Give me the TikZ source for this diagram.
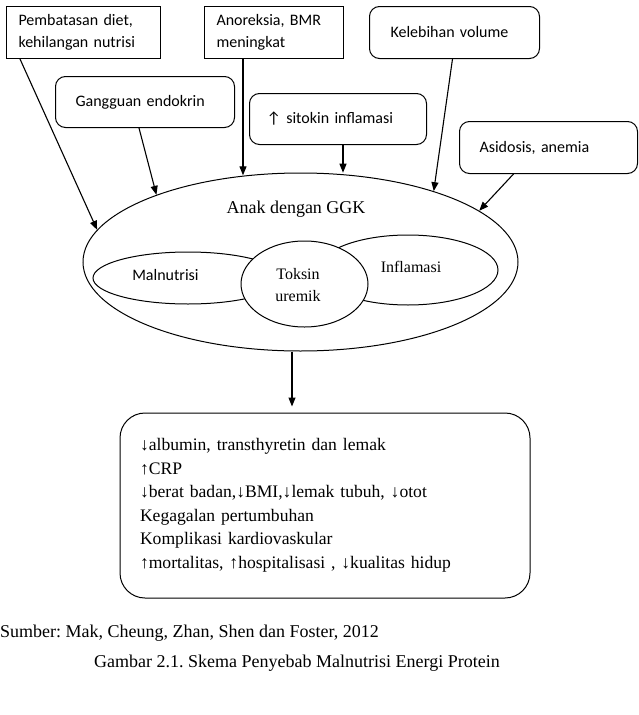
\documentclass[tikz,border=0pt]{standalone}
\usepackage{fontspec}
\setmainfont{Liberation Serif}
\newfontfamily\calibri{Carlito}
\usetikzlibrary{shapes.geometric,arrows.meta}
\frenchspacing

\begin{document}
\begin{tikzpicture}[
  x=1pt,y=-1pt,
  cause/.style={draw,anchor=north west,align=left,line width=1pt,
    font=\calibri\fontsize{16}{22}\selectfont,minimum height=52pt},
  roundcause/.style={cause,rounded corners=10pt},
  blob/.style={draw,ellipse,inner sep=0pt,line width=1pt},
  arrow/.style={-{Triangle[length=9pt,width=7pt]},line width=1.1pt},
  serif/.style={font=\fontsize{#1}{22}\selectfont},
]
  \useasboundingbox (0,0) rectangle (639,715);

  % penyebab
  \node[cause,inner xsep=12pt,text width=130pt] (pemb) at (6,6)
    {Pembatasan diet,\\kehilangan nutrisi};
  \node[cause,inner xsep=12pt,text width=115pt] (anor) at (204,6)
    {Anoreksia, BMR\\meningkat};
  \node[roundcause,inner xsep=21pt,text width=128pt] (kele) at (369,6)
    {Kelebihan volume};
  \node[roundcause,inner xsep=20pt,text width=139pt,minimum height=51pt] (gang) at (55,76)
    {Gangguan endokrin};
  \node[roundcause,inner xsep=17pt,text width=143pt,minimum height=51pt] (sito) at (249,93)
    {↑ sitokin inflamasi};
  \node[roundcause,inner xsep=20pt,text width=138pt] (asid) at (459,121)
    {Asidosis, anemia};

  % anak dengan GGK
  \node[blob,minimum width=435pt,minimum height=178pt] (ggk) at (300.5,262) {};
  \node[blob,minimum width=190pt,minimum height=52pt] (maln) at (188,278) {};
  \node[blob,minimum width=180pt,minimum height=70pt] (infl) at (408,270) {};
  \node[blob,fill=white,minimum width=127pt,minimum height=86pt] (toks) at (304.5,284) {};

  \node[serif=18,anchor=base] (ggktext) at (296,213) {Anak dengan GGK};
  \node[font=\calibri\fontsize{16}{20}\selectfont,anchor=base] (malntext) at (165.5,280) {Malnutrisi};
  \node[serif=16,anchor=base] (infltext) at (411,272) {Inflamasi};
  \node[serif=16,align=center] (tokstext) at (298,285.5) {Toksin\\uremik};

  \draw[arrow] ([xshift=14pt]pemb.south west) -- (ggk.171);
  \draw[arrow] ([xshift=-6pt]gang.south) -- (ggk.155);
  \draw[arrow] ([xshift=-31pt]anor.south) -- ([xshift=-31pt]anor.south |- ggk.122);
  \draw[arrow] ([xshift=5pt]sito.south) -- ([xshift=5pt]sito.south |- ggk.80);
  \draw[arrow] ([xshift=-2pt]kele.south) -- (ggk.28);
  \draw[arrow] ([xshift=-35pt]asid.south) -- (ggk.16);

  % akibat
  \node[draw,rounded corners=25pt,line width=1pt,minimum width=410pt,minimum height=185pt,
    text width=370pt,inner xsep=20pt,align=left,font=\fontsize{17.6}{23.5}\selectfont]
    (result) at (325,505.5)
    {↓albumin, transthyretin dan lemak\\
     ↑CRP\\
     ↓berat badan,↓BMI,↓lemak tubuh, ↓otot\\
     Kegagalan pertumbuhan\\
     Komplikasi kardiovaskular\\
     ↑mortalitas, ↑hospitalisasi , ↓kualitas hidup};
  \draw[arrow,shorten >=6pt] ([xshift=-8.5pt]ggk.south) -- ([xshift=-8.5pt]ggk.south |- result.north);

  \node[serif=18,anchor=base west,inner sep=0pt] (sumber) at (0,637)
    {Sumber: Mak, Cheung, Zhan, Shen dan Foster, 2012};
  \node[serif=18,anchor=base west,inner sep=0pt] (gambar) at (94,667)
    {Gambar 2.1. Skema Penyebab Malnutrisi Energi Protein};
\end{tikzpicture}
\end{document}
